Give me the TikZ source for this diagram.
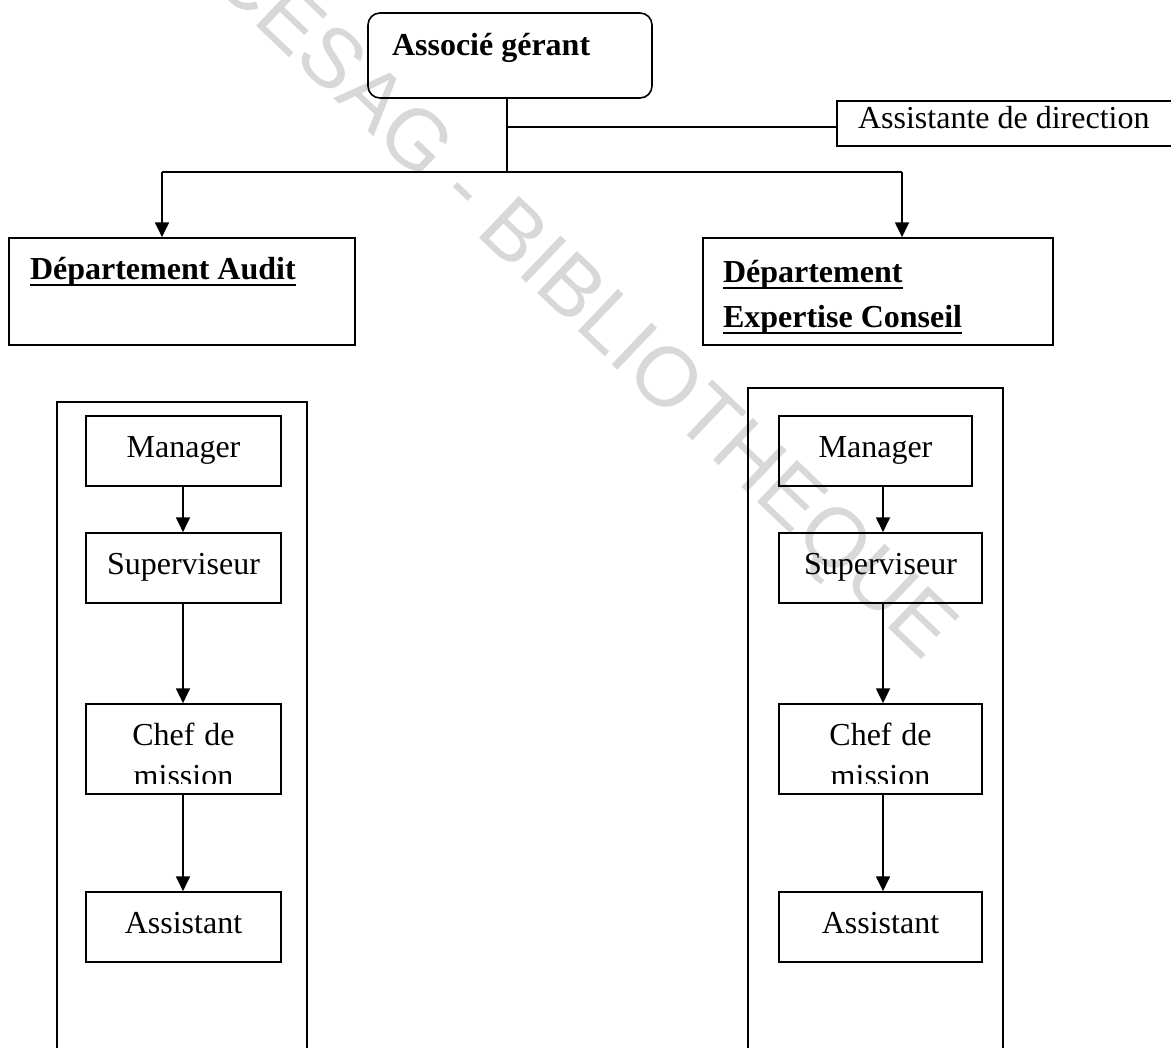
\documentclass[tikz,border=0pt]{standalone}
\usepackage{fontspec}
\setmainfont{Liberation Serif}
\newfontfamily\wmfont{Liberation Sans}
\usepackage{tikz}
\usetikzlibrary{arrows.meta,calc}
\definecolor{wmgray}{RGB}{216,216,216}
% thick underline for the department titles
\newcommand{\uln}[1]{\leavevmode\setbox0\hbox{#1}\rlap{\vrule height -1.9pt depth 2.7pt width \wd0}\box0}

\begin{document}
\begin{tikzpicture}[x=0.375pt, y=-0.375pt,
    every node/.style={font=\fontsize{12}{16.9}\selectfont,
        execute at begin node={\spaceskip=0pt\xspaceskip=0pt}},
    post/.style={draw, line width=0.6pt, minimum width=#1, inner ysep=0pt,
        text height=15.375pt, text depth=10.875pt},
    dept/.style={draw, line width=0.6pt, inner ysep=0pt, align=left,
        font=\fontsize{12}{16.9}\selectfont\bfseries},
    cut/.style={path picture={
        \clip ([yshift=4pt]path picture bounding box.south west) rectangle (path picture bounding box.north east);
        \node[anchor=base, inner sep=0pt, align=center, text width=60pt,
            font=\fontsize{12}{15.5}\selectfont]
            at ([yshift=-15.375pt]path picture bounding box.north) {#1};}},
    frame/.style={draw, line width=0.9pt, inner sep=0pt},
    link/.style={line width=0.6pt},
    arr/.style={line width=0.8pt, -{Triangle[width=5.2pt,length=5.6pt]}},
    wmark/.style={text=wmgray, inner sep=0pt, font=\wmfont\fontsize{31.5}{31.5}\selectfont}
]
    \useasboundingbox (0,0) rectangle (1171,1047);
    \clip (0,0) rectangle (1171,1047);

    % watermark
    \node[wmark, rotate=-43.6] (wm) at (581,305) {CESAG - BIBLIOTHEQUE};

    % direction
    \node[draw, rounded corners=4.5pt, line width=0.6pt, inner ysep=0pt, inner xsep=9pt,
        text width=88.5pt, align=left, text height=15.75pt, text depth=16.125pt,
        font=\fontsize{12}{16.9}\selectfont\bfseries] (assoc) at (510,55.5) {Associé gérant};
    \node[draw, line width=0.6pt, inner ysep=0pt, inner xsep=7.875pt, text width=116.6pt,
        align=left, text height=10.125pt, text depth=6.75pt] (assdir) at (1013.5,123.5)
        {Assistante de direction};

    % departments
    \node[dept, inner xsep=7.875pt, text width=114pt, text height=15.375pt, text depth=24.75pt]
        (audit) at (182,291.5) {\uln{Département Audit}};
    \node[dept, inner xsep=7.5pt, text width=116.25pt, text height=16.5pt, text depth=23.625pt]
        (expert) at (878,291.5) {\uln{Département}\\\uln{Expertise Conseil}};

    % columns
    \node[frame, minimum width=93.75pt, minimum height=254.25pt] (colA) at (182,741) {};
    \node[frame, minimum width=95.625pt, minimum height=259.5pt] (colB) at (875.5,734) {};

    \node[post=73.125pt] (mgrA) at (183.5,451) {Manager};
    \node[post=73.125pt] (supA) at (183.5,568) {Superviseur};
    \node[draw, line width=0.6pt, inner sep=0pt, minimum width=73.125pt, minimum height=33.75pt,
        cut={Chef de\\mission}] (chefA) at (183.5,749) {};
    \node[post=73.125pt] (asstA) at (183.5,927) {Assistant};

    \node[post=72.375pt] (mgrB) at (875.5,451) {Manager};
    \node[post=76.125pt] (supB) at (880.5,568) {Superviseur};
    \node[draw, line width=0.6pt, inner sep=0pt, minimum width=76.125pt, minimum height=33.75pt,
        cut={Chef de\\mission}] (chefB) at (880.5,749) {};
    \node[post=76.125pt] (asstB) at (880.5,927) {Assistant};

    % links
    \coordinate (fork) at (507,172);
    \coordinate (tee) at (507,127);
    \coordinate (dropA) at (162,172);
    \coordinate (dropB) at (902,172);
    \coordinate (axA) at (183,0);
    \coordinate (axB) at (883,0);

    \draw[link] (assoc.south -| fork) -- (fork);
    \draw[link] (tee) -- (tee -| assdir.west);
    \draw[link] (dropA) -- (dropB);
    \draw[arr] (dropA) -- (dropA |- audit.north);
    \draw[arr] (dropB) -- (dropB |- expert.north);

    \foreach \col in {A,B} {
        \draw[arr] (mgr\col.south -| ax\col) -- (sup\col.north -| ax\col);
        \draw[arr] (sup\col.south -| ax\col) -- (chef\col.north -| ax\col);
        \draw[arr] (chef\col.south -| ax\col) -- (asst\col.north -| ax\col);
    }
\end{tikzpicture}
\end{document}
